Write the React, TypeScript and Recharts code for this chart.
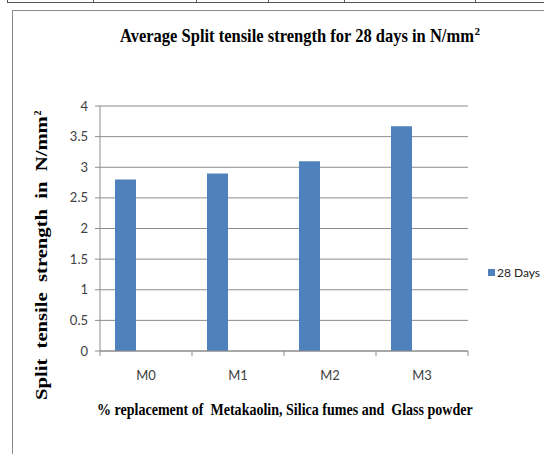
import React, { useLayoutEffect, useRef, useState } from 'react';
import { BarChart, Bar, XAxis, YAxis, CartesianGrid, Legend } from 'recharts';

const categories = ['M0', 'M1', 'M2', 'M3'];
const days28 = [2.8, 2.9, 3.1, 3.67];
const yTicks = [0, 0.5, 1, 1.5, 2, 2.5, 3, 3.5, 4];
const seriesName = '28 Days';
const titleText = 'Average Split tensile strength for 28 days in N/mm';
const yLabelText = 'Split  tensile  strength  in  N/mm';
const xLabelText = '% replacement of  Metakaolin, Silica fumes and  Glass powder';
const superscript = '2';

const data = categories.map((c, i) => ({ name: c, d28: days28[i], s2: null, s3: null }));

const W = 544;
const H = 454;
const M = { top: 106, right: 76, bottom: 73, left: 40 };
const Y_AXIS_W = 60;
const X_AXIS_H = 30;
const PLOT_W = W - M.left - M.right - Y_AXIS_W;
const BAND = PLOT_W / categories.length;

const GRID = '#8c8c8c';
const BLUE = '#4F81BD';
const TICK_FONT = 'Lato, "Open Sans", sans-serif';
const SERIF = '"Liberation Serif", "DejaVu Serif", serif';

// Text that is scaled horizontally to a target width (measured at runtime).
const FitText = ({ x, y, width, rotate = 0, fontSize, children }: any) => {
  const ref = useRef<SVGTextElement>(null);
  const [sx, setSx] = useState(1);
  useLayoutEffect(() => {
    if (ref.current) {
      const w = ref.current.getComputedTextLength();
      if (w > 0) setSx(width / w);
    }
  }, [width, children]);
  return (
    <g transform={`translate(${x},${y}) rotate(${rotate}) scale(${sx},1)`}>
      <text
        ref={ref}
        x={0}
        y={0}
        fontFamily={SERIF}
        fontWeight="bold"
        fontSize={fontSize}
        fill="#000"
        style={{ whiteSpace: 'pre' }}
      >
        {children}
      </text>
    </g>
  );
};

const XTick = (props: any) => {
  const { x, y, payload, index } = props;
  const last = index === categories.length - 1;
  return (
    <g>
      <line x1={x - BAND / 2} x2={x - BAND / 2} y1={y} y2={y + 5} stroke={GRID} />
      {last && <line x1={x + BAND / 2} x2={x + BAND / 2} y1={y} y2={y + 5} stroke={GRID} />}
      <text x={x} y={y + 29} textAnchor="middle" fontFamily={TICK_FONT} fontSize={13} fill="#404040">
        {payload.value}
      </text>
    </g>
  );
};

const LegendContent = (props: any) => {
  const items = (props.payload || []).filter((p: any) => p.type !== 'none');
  return (
    <div>
      {items.map((p: any) => (
        <div key={p.value} style={{ display: 'flex', alignItems: 'center', fontFamily: TICK_FONT, fontSize: 12, color: '#222', whiteSpace: 'nowrap' }}>
          <span style={{ display: 'inline-block', width: 7, height: 7, background: BLUE, marginRight: 2 }} />
          <span>{p.value}</span>
        </div>
      ))}
    </div>
  );
};

export default function App() {
  return (
    <div style={{ position: 'absolute', left: 0, top: 0, width: W, height: H, background: '#fff' }}>
      <BarChart width={W} height={H} data={data} margin={M} barGap={0} barCategoryGap={15}>
        <CartesianGrid vertical={false} stroke={GRID} />
        <XAxis
          dataKey="name"
          height={X_AXIS_H}
          axisLine={{ stroke: GRID }}
          tickLine={false}
          tickSize={0}
          tickMargin={0}
          tick={<XTick />}
          interval={0}
        />
        <YAxis
          width={Y_AXIS_W}
          domain={[0, 4]}
          ticks={yTicks}
          interval={0}
          axisLine={{ stroke: GRID }}
          tickLine={{ stroke: GRID }}
          tickSize={5}
          tickMargin={7}
          tick={{ fontFamily: TICK_FONT, fontSize: 13, fill: '#404040' }}
        />
        <Legend
          layout="vertical"
          align="center"
          verticalAlign="middle"
          content={<LegendContent />}
          wrapperStyle={{ position: 'absolute', left: 488, top: 265, width: 60, height: 16 }}
        />
        <Bar dataKey="d28" name={seriesName} fill={BLUE} isAnimationActive={false} />
        <Bar dataKey="s2" name="s2" fill={BLUE} legendType="none" isAnimationActive={false} />
        <Bar dataKey="s3" name="s3" fill={BLUE} legendType="none" isAnimationActive={false} />
      </BarChart>
      <svg width={W} height={H} style={{ position: 'absolute', left: 0, top: 0, pointerEvents: 'none' }}>
        {/* table edge above the chart */}
        <line x1={7} x2={W} y1={2.5} y2={2.5} stroke="#555" />
        {[7.5, 93.5, 196.5, 268.5, 344.5, 475.5].map((vx) => (
          <line key={vx} x1={vx} x2={vx} y1={0} y2={3} stroke="#555" />
        ))}
        {/* chart frame */}
        <line x1={12} x2={W} y1={10.5} y2={10.5} stroke="#8a8a8a" />
        <line x1={12.5} x2={12.5} y1={10} y2={H} stroke="#8a8a8a" />
        {/* title */}
        <FitText x={120} y={42} width={354} fontSize={18}>{titleText}</FitText>
        <text x={474.5} y={35} fontFamily={SERIF} fontWeight="bold" fontSize={11} fill="#000">
          {superscript}
        </text>
        {/* y label */}
        <FitText x={47} y={400} width={284} rotate={-90} fontSize={16}>{yLabelText}</FitText>
        <g transform="translate(47,400) rotate(-90)">
          <text x={284.5} y={-6} fontFamily={SERIF} fontWeight="bold" fontSize={10} fill="#000">
            {superscript}
          </text>
        </g>
        {/* x label */}
        <FitText x={97} y={415} width={376} fontSize={17}>{xLabelText}</FitText>
      </svg>
    </div>
  );
}
